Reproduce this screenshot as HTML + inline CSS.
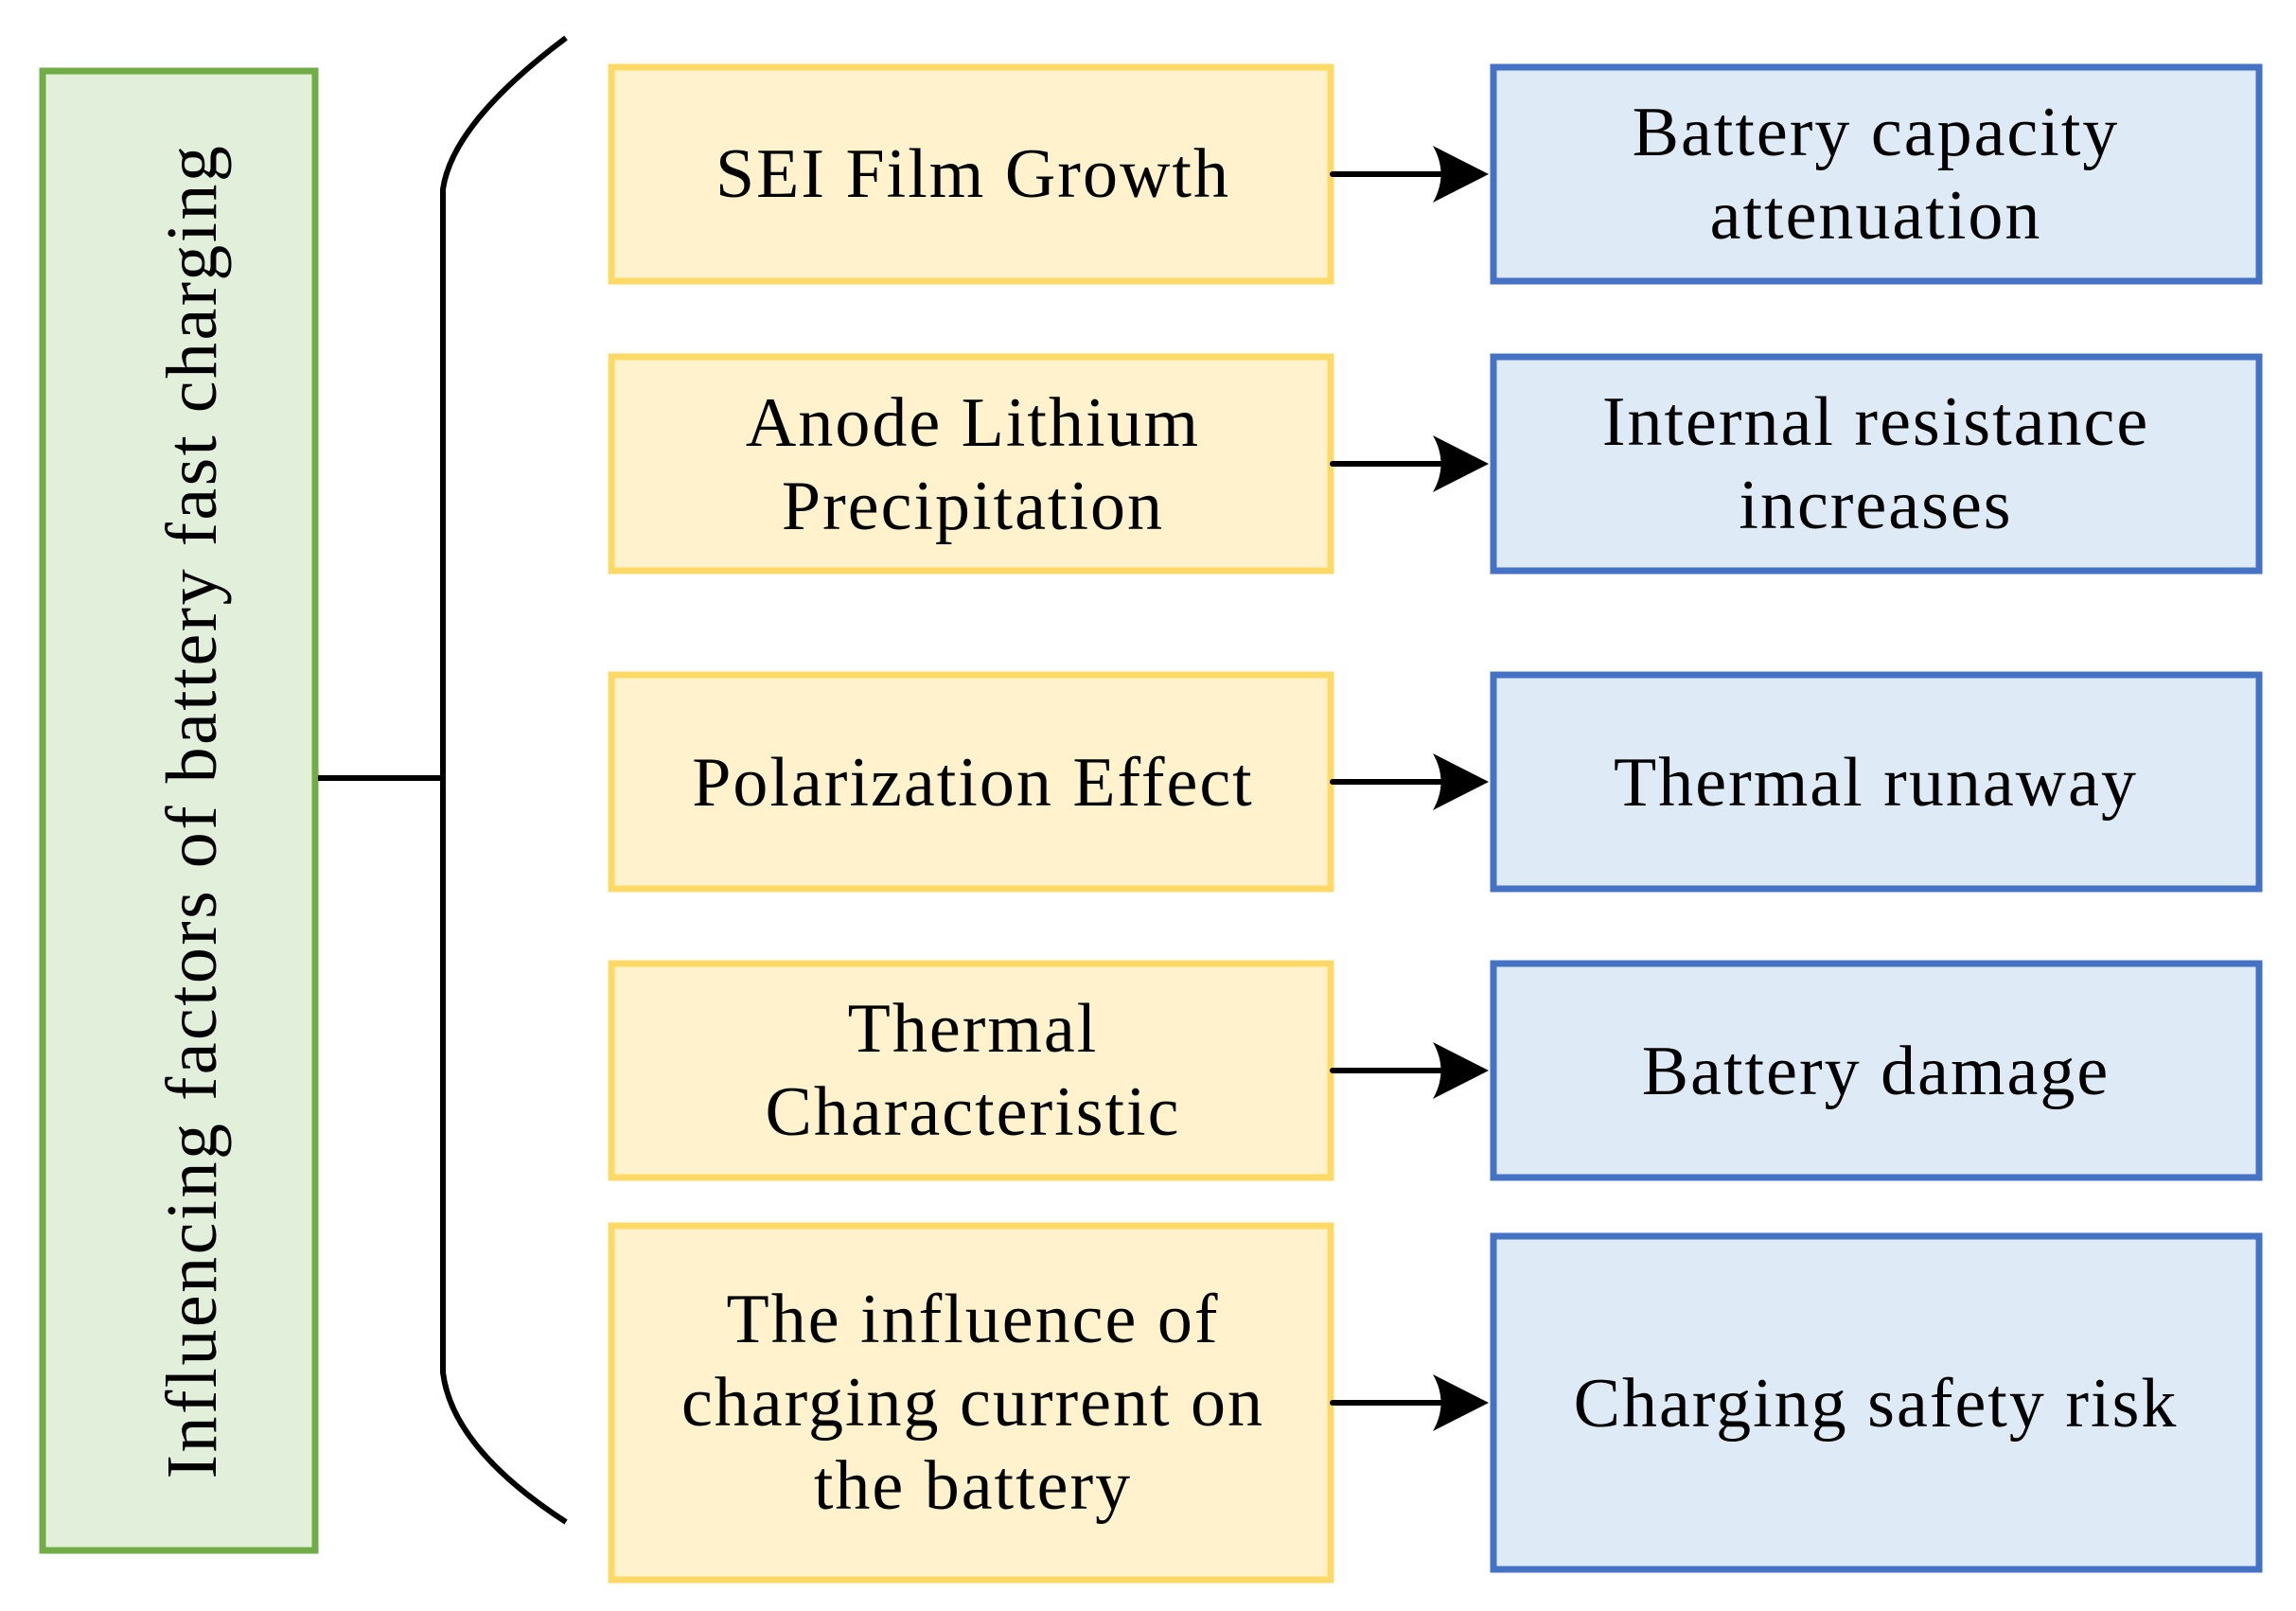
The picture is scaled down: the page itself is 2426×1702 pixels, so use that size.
<!DOCTYPE html>
<html><head><meta charset="utf-8"><style>
html,body{margin:0;padding:0;background:#fff;}
svg{display:block;}
text{font-family:"Liberation Serif",serif;font-size:74px;letter-spacing:2px;fill:#000;text-anchor:middle;}
</style></head><body>
<svg width="2426" height="1702" viewBox="0 0 2426 1702" xmlns="http://www.w3.org/2000/svg">
<defs>
<g id="ah"><path d="M0,0 L-59,-30 Q-42,0 -59,30 Z" fill="#000"/></g>
</defs>
<rect x="45" y="75" width="288" height="1563" fill="#e2efda" stroke="#70ad47" stroke-width="7"/>
<text transform="translate(228,857) rotate(-90)" style="font-size:76px;letter-spacing:2.5px">Influencing factors of battery fast charging</text>
<path d="M598,40 Q478,130 468,200 L468,1450 Q478,1530 598,1608" fill="none" stroke="#000" stroke-width="6"/>
<line x1="336" y1="822" x2="468" y2="822" stroke="#000" stroke-width="6"/>
<g fill="#fff2cc" stroke="#ffd966" stroke-width="7">
<rect x="646" y="71" width="760" height="226"/>
<rect x="646" y="377" width="760" height="226"/>
<rect x="646" y="713" width="760" height="226"/>
<rect x="646" y="1018" width="760" height="226"/>
<rect x="646" y="1295" width="760" height="374"/>
</g>
<g fill="#deebf7" stroke="#4472c4" stroke-width="7">
<rect x="1578" y="71" width="809" height="226"/>
<rect x="1578" y="377" width="809" height="226"/>
<rect x="1578" y="713" width="809" height="226"/>
<rect x="1578" y="1018" width="809" height="226"/>
<rect x="1578" y="1306" width="809" height="352"/>
</g>
<g stroke="#000" stroke-width="6" stroke-linecap="round">
<line x1="1408" y1="184" x2="1525" y2="184"/>
<line x1="1408" y1="490" x2="1525" y2="490"/>
<line x1="1408" y1="826" x2="1525" y2="826"/>
<line x1="1408" y1="1131" x2="1525" y2="1131"/>
<line x1="1408" y1="1482" x2="1525" y2="1482"/>
</g>
<use href="#ah" x="1573" y="184"/>
<use href="#ah" x="1573" y="490"/>
<use href="#ah" x="1573" y="826"/>
<use href="#ah" x="1573" y="1131"/>
<use href="#ah" x="1573" y="1482"/>
<text x="1028" y="208">SEI Film Growth</text>
<text x="1028" y="471">Anode Lithium</text>
<text x="1028" y="559">Precipitation</text>
<text x="1028" y="851">Polarization Effect</text>
<text x="1028" y="1111">Thermal</text>
<text x="1028" y="1199">Characteristic</text>
<text x="1028" y="1418">The influence of</text>
<text x="1028" y="1506">charging current on</text>
<text x="1028" y="1594">the battery</text>
<text x="1982" y="164">Battery capacity</text>
<text x="1982" y="252">attenuation</text>
<text x="1982" y="470">Internal resistance</text>
<text x="1982" y="558">increases</text>
<text x="1982" y="851">Thermal runaway</text>
<text x="1982" y="1156">Battery damage</text>
<text x="1982" y="1507">Charging safety risk</text>
</svg>
</body></html>
